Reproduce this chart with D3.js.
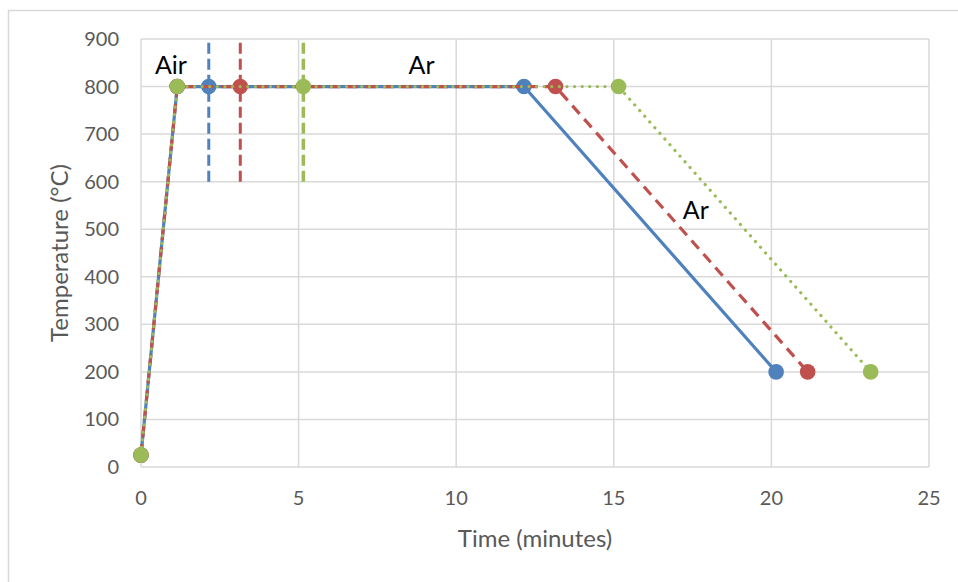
<!DOCTYPE html>
<html><head><meta charset="utf-8">
<script src="https://cdn.jsdelivr.net/npm/d3@7"></script>
<style>body{margin:0;background:#fff}text{font-family:Lato,"Open Sans",sans-serif}</style>
</head><body><svg id="c" width="958" height="582"></svg>
<script>
const xTicks = [0,5,10,15,20,25];
const yTicks = [0,100,200,300,400,500,600,700,800,900];
const blueX = [0,1.15,2.15,12.15,20.15];
const blueY = [25,800,800,800,200];
const redX = [0,1.15,3.15,13.15,21.15];
const redY = [25,800,800,800,200];
const greenX = [0,1.15,5.15,15.15,23.15];
const greenY = [25,800,800,800,200];
const markerIdx = [0,1,2,3,4];
const vBlueX = [2.15,2.15]; const vY = [600,900];
const vRedX = [3.15,3.15];
const vGreenX = [5.15,5.15];
const labels = [{t:"Air",x:0.95,y:845},{t:"Ar",x:8.9,y:845},{t:"Ar",x:17.6,y:540}];

const svg = d3.select("#c");
const W=958,H=582;
const L=141,R=929,T=39,B=467;
const x = d3.scaleLinear().domain([0,25]).range([L,R]);
const y = d3.scaleLinear().domain([0,900]).range([B,T]);
const grid="#d9d9d9";
svg.append("rect").attr("x",8.5).attr("y",10.5).attr("width",W+10).attr("height",H+10).attr("fill","#fff").attr("stroke","#d9d9d9").attr("stroke-width",1.5);

svg.append("g").selectAll("line").data(yTicks).join("line")
 .attr("x1",L).attr("x2",R).attr("y1",d=>y(d)).attr("y2",d=>y(d)).attr("stroke",grid).attr("stroke-width",1.5);
svg.append("g").selectAll("line").data(xTicks).join("line")
 .attr("y1",T).attr("y2",B).attr("x1",d=>x(d)).attr("x2",d=>x(d)).attr("stroke",grid).attr("stroke-width",1.5);

const tc="#595959";
svg.append("g").selectAll("text").data(yTicks).join("text")
 .attr("x",L-22).attr("y",d=>y(d)).attr("dy","0.35em").attr("text-anchor","end")
 .attr("font-size",20).attr("fill",tc).text(d=>d);
svg.append("g").selectAll("text").data(xTicks).join("text")
 .attr("x",d=>x(d)).attr("y",B+31).attr("dy","0.35em").attr("text-anchor","middle")
 .attr("font-size",20).attr("fill",tc).text(d=>d);
svg.append("text").attr("x",(L+R)/2).attr("y",539).attr("dy","0.35em").attr("text-anchor","middle")
 .attr("font-size",24).attr("fill",tc).text("Time (minutes)");
svg.append("text").attr("transform",`translate(60,${(T+B)/2}) rotate(-90)`).attr("dy","0.35em").attr("text-anchor","middle")
 .attr("font-size",24).attr("fill",tc).text("Temperature (°C)");

const line = d3.line().x(d=>x(d[0])).y(d=>y(d[1]));
const series = [
 {xs:blueX,ys:blueY,c:"#4f81bd",dash:null,cap:"butt",vx:vBlueX,vw:3},
 {xs:redX,ys:redY,c:"#c0504d",dash:"11,7",cap:"butt",vx:vRedX,vw:3},
 {xs:greenX,ys:greenY,c:"#9bbb59",dash:"0.1,7.5",cap:"round",vx:vGreenX,vw:3.5}
];
series.forEach(s=>{
 svg.append("path").attr("d",line(s.vx.map((v,i)=>[v,vY[i]]))).attr("stroke",s.c)
  .attr("stroke-width",s.vw).attr("fill","none").attr("stroke-dasharray","11,5");
});
series.forEach(s=>{
 const pts = s.xs.map((v,i)=>[v,s.ys[i]]);
 svg.append("path").attr("d",line(pts)).attr("fill","none").attr("stroke",s.c)
  .attr("stroke-width",3.2).attr("stroke-linecap",s.cap).attr("stroke-linejoin","round")
  .attr("stroke-dasharray",s.dash);
 svg.append("g").selectAll("circle").data(markerIdx).join("circle")
  .attr("cx",i=>x(s.xs[i])).attr("cy",i=>y(s.ys[i])).attr("r",7.8).attr("fill",s.c);
});
svg.append("g").selectAll("text").data(labels).join("text")
 .attr("x",d=>x(d.x)).attr("y",d=>y(d.y)).attr("dy","0.35em").attr("text-anchor","middle")
 .attr("font-size",25).attr("fill","#000").text(d=>d.t);
</script></body></html>
